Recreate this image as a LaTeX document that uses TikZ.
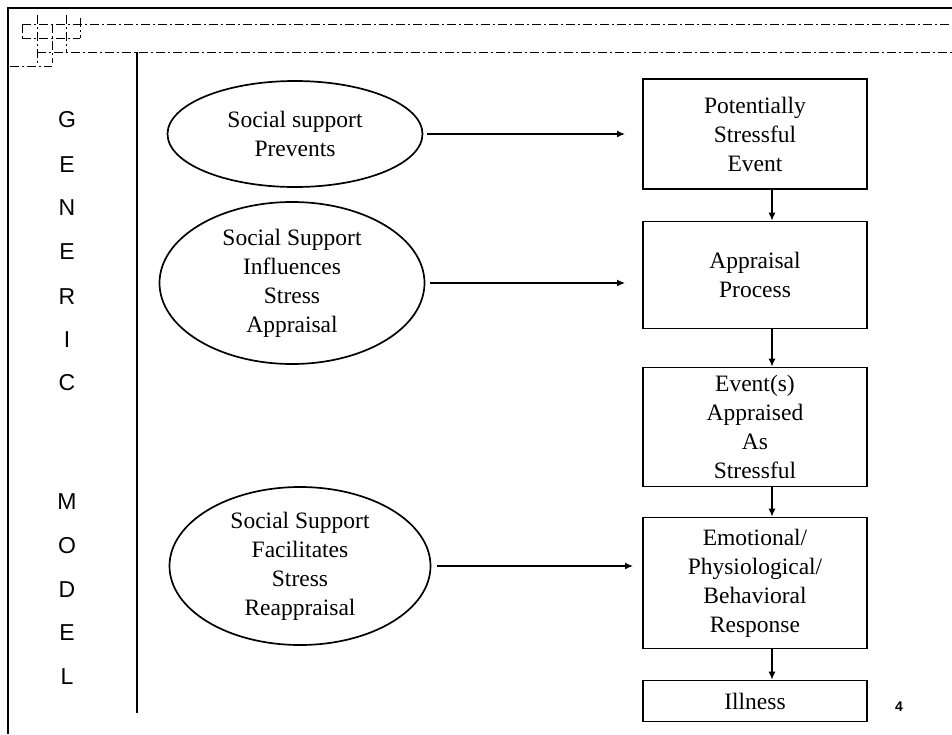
\documentclass[tikz,border=0pt]{standalone}
\usepackage{fontspec}
\setmainfont{Liberation Serif}
\newfontfamily\arialfont{Liberation Sans}
\usetikzlibrary{shapes.geometric,arrows.meta}
\begin{document}
\begin{tikzpicture}[x=1pt,y=-1pt,
  box/.style={draw,line width=1.7pt,minimum width=224pt,inner sep=0pt,align=center,font=\fontsize{23.5}{29}\selectfont},
  oval/.style={draw,ellipse,line width=1.7pt,inner sep=0pt,align=center,font=\fontsize{23.5}{29}\selectfont},
  arr/.style={line width=1.3pt,-{Latex[length=8pt,width=7pt]}},
  letter/.style={font=\arialfont\fontsize{23}{24}\selectfont,inner sep=0pt},
  frameline/.style={line width=2pt},
  dotline/.style={line width=1pt,dash pattern=on 9pt off 3pt on 2pt off 3pt}]
\useasboundingbox (0,0) rectangle (952,734);
% frame
\coordinate (f0) at (8,8);
\coordinate (f1) at (952,8);
\coordinate (f2) at (8,734);
\draw[frameline] (f1) -- (f0) -- (f2);
% decorative dashed lines
\draw[dotline] (22,24) -- (952,24);
\draw[dotline] (22,38) -- (80,38);
\draw[dotline] (37,52) -- (952,52);
\draw[dotline] (10,66) -- (52,66);
\draw[dotline] (22,24) -- (22,38);
\draw[dotline] (37,15) -- (37,66);
\draw[dotline] (52,24) -- (52,63);
\draw[dotline] (66,15) -- (66,53);
\draw[dotline] (80,18) -- (80,38);
% separator
\coordinate (s0) at (137,52);
\coordinate (s1) at (137,713);
\draw[frameline] (s0) -- (s1);
% letters
\node[letter] (lG) at (67,120) {G};
\node[letter] (lE1) at (67,165) {E};
\node[letter] (lN) at (67,208) {N};
\node[letter] (lE2) at (67,252) {E};
\node[letter] (lR) at (67,297) {R};
\node[letter] (lI) at (67,340) {I};
\node[letter] (lC) at (67,383) {C};
\node[letter] (lM) at (67,502) {M};
\node[letter] (lO) at (67,546) {O};
\node[letter] (lD) at (67,590) {D};
\node[letter] (lE3) at (67,633) {E};
\node[letter] (lL) at (67,677) {L};
% ellipses
\node[oval,minimum width=255pt,minimum height=106pt] (e1) at (295,134) {Social support\\Prevents};
\node[oval,minimum width=265pt,minimum height=162pt] (e2) at (292,283) {Social Support\\Influences\\Stress\\Appraisal};
\node[oval,minimum width=261pt,minimum height=158pt] (e3) at (300,566) {Social Support\\Facilitates\\Stress\\Reappraisal};
% boxes
\node[box,minimum height=110pt] (b1) at (755,134) {Potentially\\Stressful\\Event};
\node[box,minimum height=107pt] (b2) at (755,275) {Appraisal\\Process};
\node[box,minimum height=119pt] (b3) at (755,427) {Event(s)\\Appraised\\As\\Stressful};
\node[box,minimum height=131pt] (b4) at (755,583) {Emotional/\\Physiological/\\Behavioral\\Response};
\node[box,minimum height=41pt] (b5) at (755,701) {Illness};
% page number
\node[font=\arialfont\bfseries\fontsize{14}{16}\selectfont] (pg) at (899,707) {4};
% horizontal arrows
\coordinate (g1) at (625,0);
\coordinate (g3) at (633,0);
\draw[arr,shorten <=4pt] (e1.east) -- (e1.east -| g1);
\draw[arr,shorten <=5pt] (e2.east) -- (e2.east -| g1);
\draw[arr,shorten <=6pt] (e3.east) -- (e3.east -| g3);
% vertical arrows
\draw[arr] ([xshift=17pt]b1.south) -- ([xshift=17pt]b2.north);
\draw[arr] ([xshift=17pt]b2.south) -- ([xshift=17pt]b3.north);
\draw[arr] ([xshift=17pt]b3.south) -- ([xshift=17pt]b4.north);
\draw[arr] ([xshift=17pt]b4.south) -- ([xshift=17pt]b5.north);
\end{tikzpicture}
\end{document}
